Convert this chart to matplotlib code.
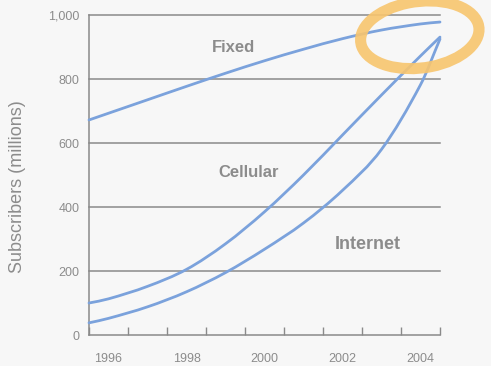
import matplotlib
matplotlib.use("Agg")
import numpy as np
import matplotlib.pyplot as plt
from matplotlib.patches import Ellipse, PathPatch
from matplotlib.path import Path

plt.rcParams["font.family"] = ["Liberation Sans", "DejaVu Sans"]

# Subscribers in millions, read at mid-year points
years = [1995.5, 1996, 1997, 1998, 1999, 2000, 2001, 2002, 2003, 2004, 2004.5]
fixed = [672, 693, 735, 777, 818, 857, 893, 926, 953, 972, 978]
cellular = [100, 113, 152, 205, 285, 385, 500, 625, 750, 872, 931]
internet = [38, 52, 88, 135, 195, 268, 350, 452, 580, 782, 925]

year_labels = [1996, 1998, 2000, 2002, 2004]
y_ticks = [0, 200, 400, 600, 800, 1000]
y_tick_labels = ["0", "200", "400", "600", "800", "1,000"]

line_color = "#7ba2dc"
grey = "#8a8a8a"
text_grey = "#8c8c8c"


def smooth_path(xs, ys):
    # cubic Hermite through the points (slopes from neighbours), as Bezier segments
    x = np.asarray(xs, float)
    y = np.asarray(ys, float)
    m = np.empty_like(y)
    m[1:-1] = (y[2:] - y[:-2]) / (x[2:] - x[:-2])
    m[0] = (y[1] - y[0]) / (x[1] - x[0])
    m[-1] = (y[-1] - y[-2]) / (x[-1] - x[-2])
    verts = [(x[0], y[0])]
    codes = [Path.MOVETO]
    for i in range(len(x) - 1):
        h = (x[i + 1] - x[i]) / 3
        verts += [(x[i] + h, y[i] + m[i] * h),
                  (x[i + 1] - h, y[i + 1] - m[i + 1] * h),
                  (x[i + 1], y[i + 1])]
        codes += [Path.CURVE4] * 3
    return Path(verts, codes)


fig = plt.figure(figsize=(4.91, 3.66), dpi=100, facecolor="#f7f7f7")
ax = fig.add_axes([89 / 491, 31 / 366, 351 / 491, 320 / 366])
ax.set_facecolor("#f7f7f7")

ax.set_xlim(1995.5, 2004.5)
ax.set_ylim(0, 1000)

# horizontal rules
for v in y_ticks[1:]:
    ax.axhline(v, color=grey, lw=1.1, zorder=1, clip_on=False)

for series in (fixed, cellular, internet):
    ax.add_patch(PathPatch(smooth_path(years, series), fill=False, edgecolor=line_color,
                           lw=2.0, capstyle="round", zorder=3, clip_on=False))

label_style = dict(color=text_grey, fontweight="bold", ha="center", va="center")
ax.text(1999.2, 897, "Fixed", fontsize=12, **label_style)
ax.text(1999.6, 509, "Cellular", fontsize=12, **label_style)
ax.text(2002.65, 282, "Internet", fontsize=13, **label_style)

for side in ("top", "right"):
    ax.spines[side].set_visible(False)
for side in ("left", "bottom"):
    ax.spines[side].set_color(grey)
    ax.spines[side].set_linewidth(1.1)

# year boundaries as tick marks, labels centred on the year
ax.set_xticks([y + 0.5 for y in range(1995, 2005)])
ax.set_xticklabels([])
ax.tick_params(axis="x", direction="in", length=6, color=grey, width=1.0)
ax.set_xticks(year_labels, minor=True)
ax.set_xticklabels([str(y) for y in year_labels], minor=True)
ax.tick_params(axis="x", which="minor", length=0, pad=13, labelsize=9, labelcolor=text_grey)

ax.set_yticks(y_ticks)
ax.set_yticklabels(y_tick_labels)
ax.tick_params(axis="y", length=0, pad=7, labelsize=9, labelcolor=text_grey)

ax.set_ylabel("Subscribers (millions)", color=text_grey, fontsize=13)
ax.yaxis.set_label_coords(-0.18, 0.4625)

# highlighter circle round the 2004 end of the curves
ring = Ellipse((0.855, 0.905), 0.245, 0.18, angle=15, transform=fig.transFigure,
               fill=False, edgecolor="#f8c56e", lw=8, alpha=0.9, zorder=5)
fig.add_artist(ring)

fig.savefig("out.png", dpi=100, facecolor=fig.get_facecolor())
